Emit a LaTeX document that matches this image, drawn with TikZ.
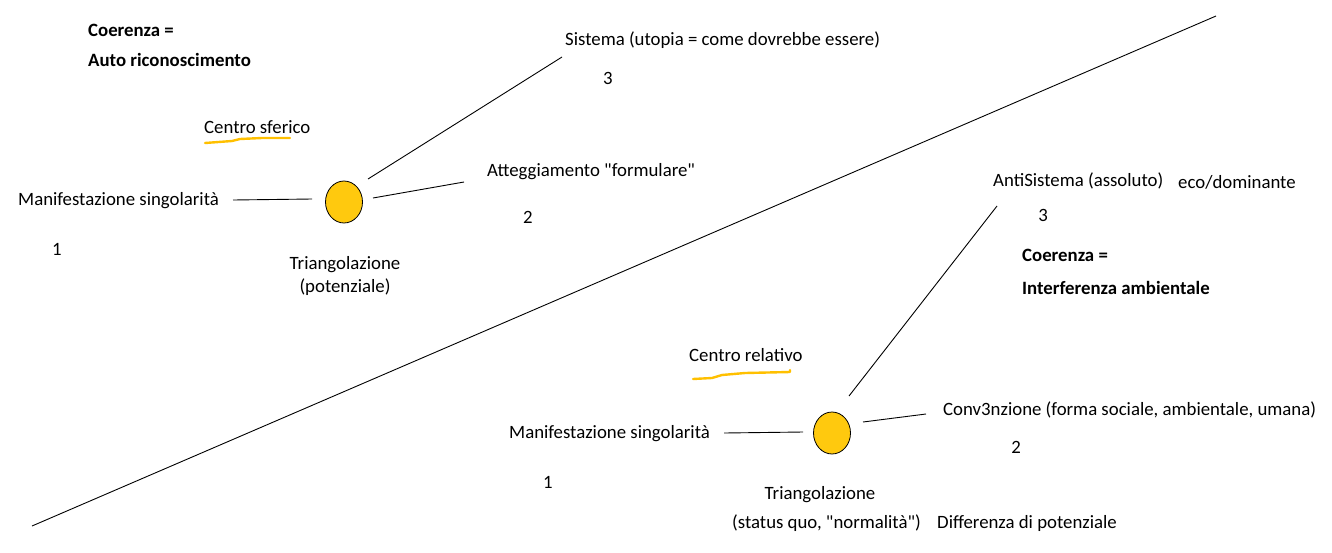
\documentclass[tikz,border=0pt]{standalone}
\usepackage{fontspec}
\setmainfont{Carlito}
\usetikzlibrary{shapes.geometric}
\definecolor{sun}{RGB}{255,201,14}
\definecolor{hl}{RGB}{255,192,0}
\newcommand{\fsz}{\fontsize{18.8pt}{22pt}\selectfont}
\tikzset{
  lbl/.style={anchor=west,inner sep=0pt,font=\fsz},
  ctr/.style={anchor=center,inner sep=0pt,font=\fsz},
  bld/.style={lbl,font=\fsz\bfseries},
  dot/.style={ellipse,draw=black,line width=0.8pt,fill=sun,minimum width=37pt,minimum height=42pt,inner sep=0pt},
  con/.style={line width=0.9pt},
  uline/.style={draw=hl,line width=2.4pt,line cap=round,line join=round}
}
\begin{document}
\begin{tikzpicture}[x=1pt,y=-1pt]
\useasboundingbox (0,0) rectangle (1332,552);
% diagonal
\coordinate (dA) at (32,526);
\coordinate (dB) at (1216,16);
\draw[con] (dA) -- (dB);
% upper group
\node[bld] (co1) at (88,30) {Coerenza =};
\node[bld] (au1) at (88,60) {Auto riconoscimento};
\node[lbl] (sis) at (565,40) {Sistema (utopia = come dovrebbe essere)};
\node[ctr] (n3a) at (608,78) {3};
\node[lbl] (cs) at (204,127) {Centro sferico};
\node[lbl] (ms1) at (18,201) {Manifestazione singolarità};
\node[ctr] (n1a) at (57,249) {1};
\node[dot] (c1) at (344,202) {};
\node[lbl] (att) at (487,172) {Atteggiamento \textquotedbl formulare\textquotedbl};
\node[ctr] (n2a) at (528,217) {2};
\node[ctr] (tr1) at (345,265) {Triangolazione};
\node[ctr] (po1) at (345,287) {(potenziale)};
\draw[uline] (205,143) -- (232,141) -- (240,139) -- (262,138) -- (290,138);
\coordinate (a1) at (233,200);
\coordinate (a2) at (312,199);
\draw[con] (a1) -- (a2);
\coordinate (b1) at (368,179);
\coordinate (b2) at (562,57);
\draw[con] (b1) -- (b2);
\coordinate (e1) at (373,198);
\coordinate (e2) at (464,182);
\draw[con] (e1) -- (e2);
% lower group
\node[lbl] (anti) at (993,181) {AntiSistema (assoluto)};
\node[lbl] (eco) at (1178,182) {eco/dominante};
\node[ctr] (n3b) at (1043,215) {3};
\node[bld] (co2) at (1022,255) {Coerenza =};
\node[bld] (int) at (1022,288) {Interferenza ambientale};
\node[lbl] (cr) at (689,355) {Centro relativo};
\draw[uline] (693,379) -- (712,378) -- (722,375) -- (745,373) -- (790,372) -- (790,370);
\node[lbl] (ms2) at (509,434) {Manifestazione singolarità};
\node[dot] (c2) at (832,433) {};
\node[lbl] (conv) at (943,410) {Conv3nzione (forma sociale, ambientale, umana)};
\node[ctr] (n2b) at (1016,447) {2};
\node[ctr] (n1b) at (548,482) {1};
\node[ctr] (tr2) at (820,495) {Triangolazione};
\node[lbl] (sq) at (732,523) {(status quo, \textquotedbl normalità\textquotedbl)};
\node[lbl] (dp) at (937,523) {Differenza di potenziale};
\coordinate (f1) at (724,433);
\coordinate (f2) at (803,432);
\draw[con] (f1) -- (f2);
\coordinate (g1) at (849,396);
\coordinate (g2) at (997,206);
\draw[con] (g1) -- (g2);
\coordinate (h1) at (863,422);
\coordinate (h2) at (926,414);
\draw[con] (h1) -- (h2);
\end{tikzpicture}
\end{document}
